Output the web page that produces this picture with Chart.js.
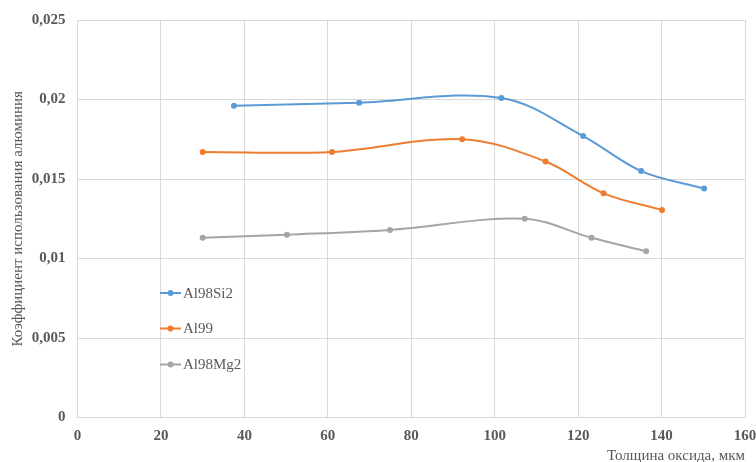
<!DOCTYPE html>
<html>
<head>
<meta charset="utf-8">
<script src="https://cdn.jsdelivr.net/npm/chart.js@4"></script>
<style>
  html, body { margin: 0; padding: 0; background: #fff; overflow: hidden; }
  #wrap { width: 756px; height: 462px; }
</style>
</head>
<body>
<div id="wrap"><canvas id="chart"></canvas></div>
<script>
// series (x = толщина оксида, мкм; y = коэффициент)
const seriesNames = ['Al98Si2', 'Al99', 'Al98Mg2'];
const si2X = [37.5, 67.5, 101.6, 121.2, 135.1, 150.2];
const si2Y = [0.0196, 0.0198, 0.0201, 0.0177, 0.0155, 0.0144];
const al99X = [30, 61, 92.2, 112.2, 126.1, 140.1];
const al99Y = [0.0167, 0.0167, 0.0175, 0.0161, 0.0141, 0.01305];
const mg2X = [30, 50.2, 74.9, 107.2, 123.2, 136.3];
const mg2Y = [0.0113, 0.0115, 0.0118, 0.0125, 0.0113, 0.01045];
const colors = ['#5B9BD5', '#ED7D31', '#A5A5A5'];

const xTitle = 'Толщина оксида, мкм';
const yTitle = 'Коэффициент использования алюминия';

const textColor = '#595959';
const serif = "'Liberation Serif', 'Times New Roman', serif";

function pts(xs, ys) {
  return xs.map((x, i) => ({ x: x, y: ys[i] }));
}

const allData = [pts(si2X, si2Y), pts(al99X, al99Y), pts(mg2X, mg2Y)];

// legend drawn inside the plot, as in the original
const insideLegend = {
  id: 'insideLegend',
  afterDraw(chart) {
    const ctx = chart.ctx;
    const rows = [293, 328.5, 364.5];
    ctx.save();
    chart.data.datasets.forEach((ds, i) => {
      const y = rows[i];
      ctx.strokeStyle = ds.borderColor;
      ctx.lineWidth = 2;
      ctx.beginPath();
      ctx.moveTo(160, y);
      ctx.lineTo(181, y);
      ctx.stroke();
      ctx.fillStyle = ds.borderColor;
      ctx.beginPath();
      ctx.arc(170.5, y, 3, 0, Math.PI * 2);
      ctx.fill();
      ctx.fillStyle = textColor;
      ctx.font = '15px ' + serif;
      ctx.textBaseline = 'middle';
      ctx.textAlign = 'left';
      ctx.fillText(ds.label, 183, y + 1);
    });
    ctx.restore();
  }
};

new Chart(document.getElementById('chart'), {
  type: 'line',
  data: {
    datasets: seriesNames.map((name, i) => ({
      label: name,
      data: allData[i],
      borderColor: colors[i],
      backgroundColor: colors[i],
      borderWidth: 2,
      pointRadius: 3,
      pointBorderWidth: 0,
      tension: 0.35,
      fill: false
    }))
  },
  options: {
    responsive: true,
    maintainAspectRatio: false,
    animation: false,
    layout: { padding: { top: 20, right: 11, left: 0, bottom: 0 } },
    plugins: {
      legend: { display: false },
      tooltip: { enabled: false }
    },
    scales: {
      x: {
        type: 'linear',
        min: 0,
        max: 160,
        ticks: {
          stepSize: 20,
          padding: 10,
          color: textColor,
          font: { family: serif, size: 15, weight: 'bold' }
        },
        grid: { color: '#D9D9D9', drawTicks: false },
        border: { color: '#D9D9D9' },
        title: {
          display: true,
          text: xTitle,
          align: 'end',
          color: textColor,
          padding: { top: 0, bottom: -1.5 },
          font: { family: serif, size: 15, lineHeight: 1 }
        },
        afterFit(s) { s.height = 44.5; s.paddingLeft = 0; s.paddingRight = 0; }
      },
      y: {
        min: 0,
        max: 0.025,
        ticks: {
          stepSize: 0.005,
          padding: 12,
          color: textColor,
          font: { family: serif, size: 15, weight: 'bold' },
          callback: (v) => String(Number(v.toFixed(3))).replace('.', ',')
        },
        grid: { color: '#D9D9D9', drawTicks: false },
        border: { color: '#D9D9D9' },
        title: {
          display: true,
          text: yTitle,
          color: textColor,
          padding: { top: 9, bottom: 0 },
          font: { family: serif, size: 15, lineHeight: 1.2 }
        },
        afterFit(s) { s.width = 77.5; s.paddingTop = 0; s.paddingBottom = 0; }
      }
    }
  },
  plugins: [insideLegend]
});
</script>
</body>
</html>
